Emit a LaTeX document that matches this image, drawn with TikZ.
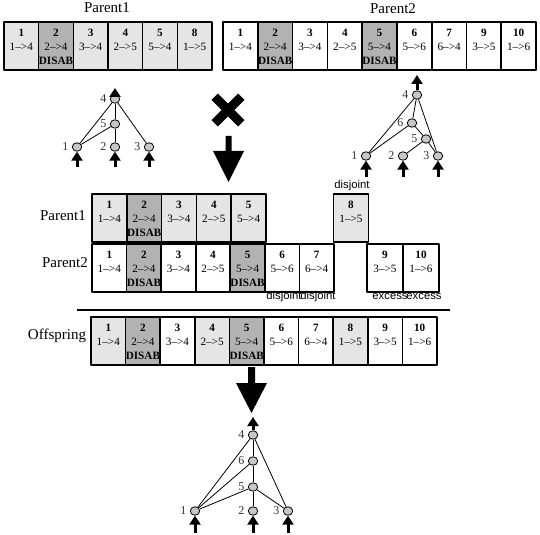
\documentclass[tikz,border=0pt]{standalone}
\usepackage{fontspec}
\setmainfont{Liberation Serif}
\newfontfamily\notefont{Liberation Sans}
\usetikzlibrary{arrows.meta,shapes.geometric}
\definecolor{genelt}{gray}{0.9}
\definecolor{genedk}{gray}{0.7}
\definecolor{nodegray}{gray}{0.78}
\newcommand{\genetext}[3]{\rule{0pt}{9bp}\textbf{#1}\\#2\\\textbf{\vphantom{D}#3}}
\begin{document}
\begin{tikzpicture}[x=1bp,y=-1bp,line join=bevel,
  gene/.style={draw,line width=1.6bp,minimum width=34.7bp,minimum height=48bp,inner sep=0pt,align=center,font=\fontsize{11.2bp}{14bp}\selectfont},
  genel/.style={gene,fill=genelt},
  gened/.style={gene,fill=genedk},
  title/.style={font=\fontsize{15bp}{18bp}\selectfont},
  note/.style={font=\notefont\fontsize{11.3bp}{12bp}\selectfont},
  neuron/.style={ellipse,draw,fill=nodegray,line width=0.8bp,minimum width=9.5bp,minimum height=8.5bp,inner sep=0pt,label distance=2bp},
  wire/.style={line width=0.8bp},
  sig/.style={line width=3bp,-{Triangle[width=11bp,length=9bp]}},
  every label/.style={font=\fontsize{12bp}{13bp}\selectfont,text=black!80}]
\useasboundingbox (0,0) rectangle (540,535);
%%
  % Node: titles
  \node[title] (p1title) at (107,8) {Parent1};
  \node[title] (p2title) at (393,9) {Parent2};
  % Node: Parent1 genome
  \node[genel] (a1) at (21.3,46) {\genetext{1}{1-->4}{}};
  \node[gened] (a2) at (56,46) {\genetext{2}{2-->4}{DISAB}};
  \node[genel] (a3) at (90.7,46) {\genetext{3}{3-->4}{}};
  \node[genel] (a4) at (125.3,46) {\genetext{4}{2-->5}{}};
  \node[genel] (a5) at (160,46) {\genetext{5}{5-->4}{}};
  \node[genel] (a8) at (194.7,46) {\genetext{8}{1-->5}{}};
  % Node: Parent2 genome
  \node[gene] (b1) at (240.4,46) {\genetext{1}{1-->4}{}};
  \node[gened] (b2) at (275.2,46) {\genetext{2}{2-->4}{DISAB}};
  \node[gene] (b3) at (310,46) {\genetext{3}{3-->4}{}};
  \node[gene] (b4) at (344.8,46) {\genetext{4}{2-->5}{}};
  \node[gened] (b5) at (379.5,46) {\genetext{5}{5-->4}{DISAB}};
  \node[gene] (b6) at (414.3,46) {\genetext{6}{5-->6}{}};
  \node[gene] (b7) at (449.1,46) {\genetext{7}{6-->4}{}};
  \node[gene] (b9) at (483.9,46) {\genetext{9}{3-->5}{}};
  \node[gene] (b10) at (518.6,46) {\genetext{10}{1-->6}{}};
  % Node: Parent1 network
  \node[neuron,label=left:4] (p1n4) at (115,99) {};
  \node[neuron,label=left:5] (p1n5) at (115,124) {};
  \node[neuron,label=left:1] (p1n1) at (77,147) {};
  \node[neuron,label=left:2] (p1n2) at (115,147) {};
  \node[neuron,label=left:3] (p1n3) at (149,147) {};
  \coordinate (p1out) at (115,88);
  \coordinate (p1in1) at (77,167);
  \coordinate (p1in2) at (115,167);
  \coordinate (p1in3) at (149,167);
  % Edge: Parent1 connections
  \draw[wire] (p1n1) -- (p1n4);
  \draw[wire] (p1n1) -- (p1n5);
  \draw[wire] (p1n5) -- (p1n4);
  \draw[wire] (p1n2) -- (p1n5);
  \draw[wire] (p1n3) -- (p1n4);
  \draw[sig] (p1n4) -- (p1out);
  \draw[sig] (p1in1) -- (p1n1);
  \draw[sig] (p1in2) -- (p1n2);
  \draw[sig] (p1in3) -- (p1n3);
  % Node: Parent2 network
  \node[neuron,label=left:4] (p2n4) at (417,95) {};
  \node[neuron,label=left:6] (p2n6) at (412,123) {};
  \node[neuron,label=left:5] (p2n5) at (426,139) {};
  \node[neuron,label=left:1] (p2n1) at (366,156) {};
  \node[neuron,label=left:2] (p2n2) at (403,156) {};
  \node[neuron,label=left:3] (p2n3) at (438,156) {};
  \coordinate (p2out) at (417,75);
  \coordinate (p2in1) at (366,177);
  \coordinate (p2in2) at (403,177);
  \coordinate (p2in3) at (438,177);
  % Edge: Parent2 connections
  \draw[wire] (p2n1) -- (p2n4);
  \draw[wire] (p2n1) -- (p2n6);
  \draw[wire] (p2n6) -- (p2n4);
  \draw[wire] (p2n5) -- (p2n6);
  \draw[wire] (p2n2) -- (p2n5);
  \draw[wire] (p2n5) -- (p2n3);
  \draw[wire] (p2n3) -- (p2n4);
  \draw[sig] (p2n4) -- (p2out);
  \draw[sig] (p2in1) -- (p2n1);
  \draw[sig] (p2in2) -- (p2n2);
  \draw[sig] (p2in3) -- (p2n3);
  % cross and arrow
  \draw[line width=9bp] (214.7,96.7) -- (241.3,123.3);
  \draw[line width=9bp] (241.3,96.7) -- (214.7,123.3);
  \fill (225.5,136) -- (231.5,136) -- (231.5,151) -- (244,151) -- (228.5,182) -- (213,151) -- (225.5,151) -- cycle;
  % Node: aligned genomes
  \node[title] (m1title) at (63,216) {Parent1};
  \node[title] (m2title) at (65,263) {Parent2};
  \node[genel] (c1) at (109.4,218) {\genetext{1}{1-->4}{}};
  \node[gened] (c2) at (144.2,218) {\genetext{2}{2-->4}{DISAB}};
  \node[genel] (c3) at (179,218) {\genetext{3}{3-->4}{}};
  \node[genel] (c4) at (213.8,218) {\genetext{4}{2-->5}{}};
  \node[genel] (c5) at (248.6,218) {\genetext{5}{5-->4}{}};
  \node[genel] (c8) at (351,218) {\genetext{8}{1-->5}{}};
  \node[gene] (d1) at (109.3,268) {\genetext{1}{1-->4}{}};
  \node[gened] (d2) at (143.9,268) {\genetext{2}{2-->4}{DISAB}};
  \node[gene] (d3) at (178.4,268) {\genetext{3}{3-->4}{}};
  \node[gene] (d4) at (213,268) {\genetext{4}{2-->5}{}};
  \node[gened] (d5) at (247.6,268) {\genetext{5}{5-->4}{DISAB}};
  \node[gene] (d6) at (282.1,268) {\genetext{6}{5-->6}{}};
  \node[gene] (d7) at (316.7,268) {\genetext{7}{6-->4}{}};
  \node[gene,minimum width=36bp] (d9) at (385,268) {\genetext{9}{3-->5}{}};
  \node[gene,minimum width=36bp] (d10) at (421,268) {\genetext{10}{1-->6}{}};
  % Node: notes
  \node[note] (n8) at (352,186) {disjoint};
  \node[note] (n6) at (284,297) {disjoint};
  \node[note] (n7) at (318,297) {disjoint};
  \node[note] (n9) at (390,297) {excess};
  \node[note] (n10) at (424,297) {excess};
  \draw[line width=1.2bp] (77,310) -- (450,310);
  % Node: Offspring genome
  \node[title] (otitle) at (57,336) {Offspring};
  \node[genel] (e1) at (108.3,341) {\genetext{1}{1-->4}{}};
  \node[gened] (e2) at (142.9,341) {\genetext{2}{2-->4}{DISAB}};
  \node[gene] (e3) at (177.5,341) {\genetext{3}{3-->4}{}};
  \node[genel] (e4) at (212.1,341) {\genetext{4}{2-->5}{}};
  \node[gened] (e5) at (246.7,341) {\genetext{5}{5-->4}{DISAB}};
  \node[gene] (e6) at (281.3,341) {\genetext{6}{5-->6}{}};
  \node[gene] (e7) at (315.9,341) {\genetext{7}{6-->4}{}};
  \node[genel] (e8) at (350.5,341) {\genetext{8}{1-->5}{}};
  \node[gene] (e9) at (385.1,341) {\genetext{9}{3-->5}{}};
  \node[gene] (e10) at (419.7,341) {\genetext{10}{1-->6}{}};
  \fill (248,367) -- (255,367) -- (255,383) -- (267,383) -- (251.5,413) -- (236,383) -- (248,383) -- cycle;
  % Node: Offspring network
  \node[neuron,label=left:4] (on4) at (253,435) {};
  \node[neuron,label=left:6] (on6) at (253,461) {};
  \node[neuron,label=left:5] (on5) at (253,487) {};
  \node[neuron,label=left:1] (on1) at (195,511) {};
  \node[neuron,label=left:2] (on2) at (253,511) {};
  \node[neuron,label=left:3] (on3) at (288,511) {};
  \coordinate (oout) at (253,417);
  \coordinate (oin1) at (195,533);
  \coordinate (oin2) at (253,533);
  \coordinate (oin3) at (288,533);
  % Edge: Offspring connections
  \draw[wire] (on1) -- (on4);
  \draw[wire] (on1) -- (on6);
  \draw[wire] (on1) -- (on5);
  \draw[wire] (on6) -- (on4);
  \draw[wire] (on5) -- (on6);
  \draw[wire] (on2) -- (on5);
  \draw[wire] (on5) -- (on3);
  \draw[wire] (on3) -- (on4);
  \draw[sig] (on4) -- (oout);
  \draw[sig] (oin1) -- (on1);
  \draw[sig] (oin2) -- (on2);
  \draw[sig] (oin3) -- (on3);
%
\end{tikzpicture}
\end{document}
